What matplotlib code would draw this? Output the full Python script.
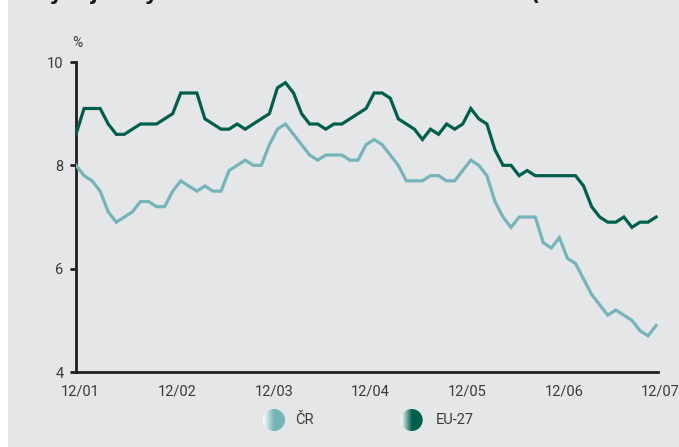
"""Unemployment rate: Czech Republic vs EU-27, monthly 12/01 - 12/07."""

import matplotlib
matplotlib.use("Agg")
import matplotlib.pyplot as plt
import matplotlib.patches as mpatches
import matplotlib.transforms as mtransforms
from matplotlib import font_manager
from matplotlib.colors import LinearSegmentedColormap
import numpy as np

# narrow face if there is one, otherwise Roboto
installed = {f.name for f in font_manager.fontManager.ttflist}
FONT = 'Liberation Sans Narrow' if 'Liberation Sans Narrow' in installed else 'Roboto'
plt.rcParams['font.family'] = [FONT, 'DejaVu Sans']

BG = '#e5e6e8'
AXIS = '#231f20'
TEXT = '#3a3a3a'
CZ_COLOR = '#76b4b9'
EU_COLOR = '#005f4c'

# data (monthly, 12/01 .. 12/07)
tick_labels = ['12/01', '12/02', '12/03', '12/04', '12/05', '12/06', '12/07']
yticks = [4, 6, 8, 10]
series_names = ['ČR', 'EU-27']

cz = [8.0, 7.8, 7.7, 7.5, 7.1, 6.9, 7.0, 7.1, 7.3, 7.3, 7.2, 7.2, 7.5,
      7.7, 7.6, 7.5, 7.6, 7.5, 7.5, 7.9, 8.0, 8.1, 8.0, 8.0, 8.4,
      8.7, 8.8, 8.6, 8.4, 8.2, 8.1, 8.2, 8.2, 8.2, 8.1, 8.1, 8.4,
      8.5, 8.4, 8.2, 8.0, 7.7, 7.7, 7.7, 7.8, 7.8, 7.7, 7.7, 7.9,
      8.1, 8.0, 7.8, 7.3, 7.0, 6.8, 7.0, 7.0, 7.0, 6.5, 6.4, 6.6,
      6.2, 6.1, 5.8, 5.5, 5.3, 5.1, 5.2, 5.1, 5.0, 4.8, 4.7, 4.9]

eu = [8.6, 9.1, 9.1, 9.1, 8.8, 8.6, 8.6, 8.7, 8.8, 8.8, 8.8, 8.9, 9.0,
      9.4, 9.4, 9.4, 8.9, 8.8, 8.7, 8.7, 8.8, 8.7, 8.8, 8.9, 9.0,
      9.5, 9.6, 9.4, 9.0, 8.8, 8.8, 8.7, 8.8, 8.8, 8.9, 9.0, 9.1,
      9.4, 9.4, 9.3, 8.9, 8.8, 8.7, 8.5, 8.7, 8.6, 8.8, 8.7, 8.8,
      9.1, 8.9, 8.8, 8.3, 8.0, 8.0, 7.8, 7.9, 7.8, 7.8, 7.8, 7.8,
      7.8, 7.8, 7.6, 7.2, 7.0, 6.9, 6.9, 7.0, 6.8, 6.9, 6.9, 7.0]

W, H = 679, 447
fig = plt.figure(figsize=(W / 100, H / 100), dpi=100, facecolor='white')
# grey panel (thin white strip on the left), drawn below everything
fig.patches.append(mpatches.Rectangle((8 / W, 0), 1 - 8 / W, 1, transform=fig.transFigure,
                                      facecolor=BG, edgecolor='none', zorder=-10))

# title, cut off by the top edge so only descenders show
fig.text(33 / W, 1.0, 'Vývoj míry nezaměstnanosti v ČR a EU-27 (sezónně očištěno, v %)',
         fontsize=15, fontweight='bold', color='#1a1a1a', va='baseline', ha='left',
         family='DejaVu Sans')

ax = fig.add_axes([76 / W, (H - 372) / H, (657.7 - 76) / W, 310 / H])
ax.set_facecolor('none')

months = np.arange(len(cz))
ax.plot(months, cz, color=CZ_COLOR, lw=2.3, solid_joinstyle='miter', zorder=3)
ax.plot(months, eu, color=EU_COLOR, lw=2.3, solid_joinstyle='miter', zorder=4)

ax.set_xlim(0, 72.2)
ax.set_ylim(4, 10)
for side in ['top', 'right']:
    ax.spines[side].set_visible(False)
for side in ['left', 'bottom']:
    ax.spines[side].set_color(AXIS)
    ax.spines[side].set_linewidth(2)

ax.set_yticks(yticks)
ax.set_yticklabels([str(v) for v in yticks])
ax.tick_params(axis='y', length=4, width=2, color=AXIS, pad=5, labelsize=10.5, labelcolor=TEXT)

ax.set_xticks(months[::12])
ax.set_xticklabels(tick_labels)
ax.tick_params(axis='x', length=0, pad=9, labelsize=10.5, labelcolor=TEXT)
shift = mtransforms.ScaledTranslation(4.5 / 100, 0, fig.dpi_scale_trans)
for lbl in ax.get_xticklabels():
    lbl.set_transform(lbl.get_transform() + shift)

ax.text(0, 1.0, '%', transform=ax.transAxes + mtransforms.ScaledTranslation(1 / 100, 12 / 100, fig.dpi_scale_trans),
        ha='center', va='bottom', fontsize=10, color=TEXT)

# legend with gradient circles
lax = fig.add_axes([0, 0, 1, 1], zorder=5)
lax.set_xlim(0, W)
lax.set_ylim(H, 0)
lax.axis('off')

grad = np.linspace(0, 1, 64).reshape(1, -1)
legend_items = [(274, 295, CZ_COLOR), (411.7, 435.7, EU_COLOR)]
for name, (cx, tx, col) in zip(series_names, legend_items):
    cmap = LinearSegmentedColormap.from_list('g', ['#ffffff', col, col], N=256)
    r = 11
    im = lax.imshow(grad, cmap=cmap, extent=(cx - r, cx + r, 420 + r, 420 - r),
                    aspect='auto', interpolation='bilinear', zorder=2)
    circ = mpatches.Circle((cx, 420), r, transform=lax.transData, facecolor='none', edgecolor='none')
    lax.add_patch(circ)
    im.set_clip_path(circ)
    lax.text(tx, 420, name, ha='left', va='center', fontsize=10.5, color=TEXT)
lax.set_xlim(0, W)
lax.set_ylim(H, 0)

fig.savefig('out.png', dpi=100, facecolor='white')
